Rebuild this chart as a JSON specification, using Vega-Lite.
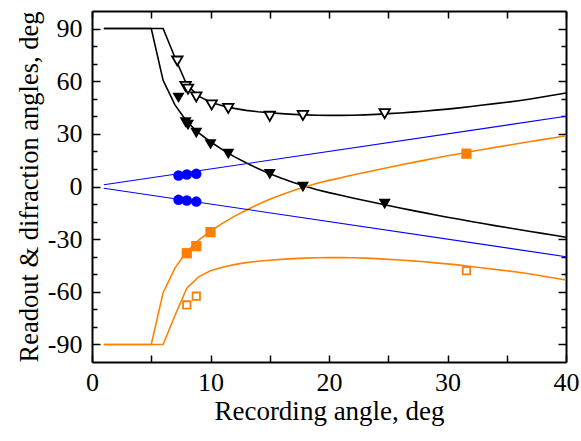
{
  "$schema": "https://vega.github.io/schema/vega-lite/v6.json",
  "width": 474,
  "height": 351,
  "autosize": {"type": "none"},
  "padding": {"left": 92, "top": 11, "right": 15, "bottom": 79},
  "background": "white",
  "config": {
    "view": {"stroke": null},
    "axis": {
      "domainColor": "black", "domainWidth": 2, "tickColor": "black", "tickWidth": 1.5, "grid": false,
      "labelFont": "Liberation Serif", "labelFontSize": 26, "labelColor": "black", "labelFlush": false, "labelOverlap": false,
      "titleFont": "Liberation Serif", "titleFontSize": 27, "titleFontWeight": "normal", "titleColor": "black"
    }
  },
  "datasets": {
    "lines": [
      {"s":"UB","x":1,"y":90},{"s":"UB","x":2,"y":90},{"s":"UB","x":3,"y":90},{"s":"UB","x":4,"y":90},{"s":"UB","x":5,"y":90},{"s":"UB","x":6,"y":90},{"s":"UB","x":7,"y":73.5},{"s":"UB","x":8,"y":58},{"s":"UB","x":9,"y":51.5},{"s":"UB","x":10,"y":48},
      {"s":"UB","x":11,"y":46},{"s":"UB","x":12,"y":44.5},{"s":"UB","x":13,"y":43.4},{"s":"UB","x":14,"y":42.6},{"s":"UB","x":15,"y":42},{"s":"UB","x":16,"y":41.5},{"s":"UB","x":17,"y":41.1},{"s":"UB","x":18,"y":40.8},{"s":"UB","x":19,"y":40.6},{"s":"UB","x":20,"y":40.5},
      {"s":"UB","x":21,"y":40.5},{"s":"UB","x":22,"y":40.6},{"s":"UB","x":23,"y":40.8},{"s":"UB","x":24,"y":41.1},{"s":"UB","x":25,"y":41.5},{"s":"UB","x":26,"y":41.9},{"s":"UB","x":27,"y":42.4},{"s":"UB","x":28,"y":42.9},{"s":"UB","x":29,"y":43.5},{"s":"UB","x":30,"y":44.1},
      {"s":"UB","x":31,"y":44.8},{"s":"UB","x":32,"y":45.6},{"s":"UB","x":33,"y":46.4},{"s":"UB","x":34,"y":47.2},{"s":"UB","x":35,"y":48},{"s":"UB","x":36,"y":48.9},{"s":"UB","x":37,"y":49.9},{"s":"UB","x":38,"y":51},{"s":"UB","x":39,"y":52.1},{"s":"UB","x":40,"y":53.3},

      {"s":"LB","x":1,"y":90},{"s":"LB","x":2,"y":90},{"s":"LB","x":3,"y":90},{"s":"LB","x":4,"y":90},{"s":"LB","x":5,"y":90},{"s":"LB","x":6,"y":60.5},{"s":"LB","x":7,"y":46.5},{"s":"LB","x":8,"y":37},{"s":"LB","x":9,"y":30.5},{"s":"LB","x":10,"y":25.5},
      {"s":"LB","x":11,"y":21},{"s":"LB","x":12,"y":17},{"s":"LB","x":13,"y":13.5},{"s":"LB","x":14,"y":10.3},{"s":"LB","x":15,"y":7.3},{"s":"LB","x":16,"y":4.7},{"s":"LB","x":17,"y":2.3},{"s":"LB","x":18,"y":0.1},{"s":"LB","x":19,"y":-1.8},{"s":"LB","x":20,"y":-3.5},
      {"s":"LB","x":21,"y":-5},{"s":"LB","x":22,"y":-6.5},{"s":"LB","x":23,"y":-8},{"s":"LB","x":24,"y":-9.4},{"s":"LB","x":25,"y":-10.8},{"s":"LB","x":26,"y":-12.2},{"s":"LB","x":27,"y":-13.6},{"s":"LB","x":28,"y":-14.9},{"s":"LB","x":29,"y":-16.2},{"s":"LB","x":30,"y":-17.5},
      {"s":"LB","x":31,"y":-18.7},{"s":"LB","x":32,"y":-19.9},{"s":"LB","x":33,"y":-21.1},{"s":"LB","x":34,"y":-22.3},{"s":"LB","x":35,"y":-23.4},{"s":"LB","x":36,"y":-24.5},{"s":"LB","x":37,"y":-25.6},{"s":"LB","x":38,"y":-26.7},{"s":"LB","x":39,"y":-27.8},{"s":"LB","x":40,"y":-28.9},

      {"s":"UO","x":1,"y":-90},{"s":"UO","x":2,"y":-90},{"s":"UO","x":3,"y":-90},{"s":"UO","x":4,"y":-90},{"s":"UO","x":5,"y":-90},{"s":"UO","x":6,"y":-60.5},{"s":"UO","x":7,"y":-46.5},{"s":"UO","x":8,"y":-37},{"s":"UO","x":9,"y":-30.5},{"s":"UO","x":10,"y":-25.5},
      {"s":"UO","x":11,"y":-21},{"s":"UO","x":12,"y":-17},{"s":"UO","x":13,"y":-13.5},{"s":"UO","x":14,"y":-10.3},{"s":"UO","x":15,"y":-7.3},{"s":"UO","x":16,"y":-4.7},{"s":"UO","x":17,"y":-2.3},{"s":"UO","x":18,"y":-0.1},{"s":"UO","x":19,"y":1.8},{"s":"UO","x":20,"y":3.5},
      {"s":"UO","x":21,"y":5},{"s":"UO","x":22,"y":6.5},{"s":"UO","x":23,"y":8},{"s":"UO","x":24,"y":9.4},{"s":"UO","x":25,"y":10.8},{"s":"UO","x":26,"y":12.2},{"s":"UO","x":27,"y":13.6},{"s":"UO","x":28,"y":14.9},{"s":"UO","x":29,"y":16.2},{"s":"UO","x":30,"y":17.5},
      {"s":"UO","x":31,"y":18.7},{"s":"UO","x":32,"y":19.9},{"s":"UO","x":33,"y":21.1},{"s":"UO","x":34,"y":22.3},{"s":"UO","x":35,"y":23.4},{"s":"UO","x":36,"y":24.5},{"s":"UO","x":37,"y":25.6},{"s":"UO","x":38,"y":26.7},{"s":"UO","x":39,"y":27.8},{"s":"UO","x":40,"y":28.9},

      {"s":"LO","x":1,"y":-90},{"s":"LO","x":2,"y":-90},{"s":"LO","x":3,"y":-90},{"s":"LO","x":4,"y":-90},{"s":"LO","x":5,"y":-90},{"s":"LO","x":6,"y":-90},{"s":"LO","x":7,"y":-73.5},{"s":"LO","x":8,"y":-58},{"s":"LO","x":9,"y":-51.5},{"s":"LO","x":10,"y":-48},
      {"s":"LO","x":11,"y":-46},{"s":"LO","x":12,"y":-44.5},{"s":"LO","x":13,"y":-43.4},{"s":"LO","x":14,"y":-42.6},{"s":"LO","x":15,"y":-42},{"s":"LO","x":16,"y":-41.5},{"s":"LO","x":17,"y":-41.1},{"s":"LO","x":18,"y":-40.8},{"s":"LO","x":19,"y":-40.6},{"s":"LO","x":20,"y":-40.5},
      {"s":"LO","x":21,"y":-40.5},{"s":"LO","x":22,"y":-40.6},{"s":"LO","x":23,"y":-40.8},{"s":"LO","x":24,"y":-41.1},{"s":"LO","x":25,"y":-41.5},{"s":"LO","x":26,"y":-41.9},{"s":"LO","x":27,"y":-42.4},{"s":"LO","x":28,"y":-42.9},{"s":"LO","x":29,"y":-43.5},{"s":"LO","x":30,"y":-44.1},
      {"s":"LO","x":31,"y":-44.8},{"s":"LO","x":32,"y":-45.6},{"s":"LO","x":33,"y":-46.4},{"s":"LO","x":34,"y":-47.2},{"s":"LO","x":35,"y":-48},{"s":"LO","x":36,"y":-48.9},{"s":"LO","x":37,"y":-49.9},{"s":"LO","x":38,"y":-51},{"s":"LO","x":39,"y":-52.1},{"s":"LO","x":40,"y":-53.3}
    ],
    "blue": [
      {"s":"BU","x":1,"y":1},{"s":"BU","x":40,"y":40},
      {"s":"BL","x":1,"y":-1},{"s":"BL","x":40,"y":-40}
    ],
    "points": [
      {"m":"ot","x":7.2,"y":71.5},{"m":"ot","x":7.9,"y":57},{"m":"ot","x":8.1,"y":55.5},{"m":"ot","x":8.8,"y":51},{"m":"ot","x":10.1,"y":46.5},{"m":"ot","x":11.5,"y":44.5},{"m":"ot","x":15,"y":40},{"m":"ot","x":17.8,"y":40.5},{"m":"ot","x":24.7,"y":41.5},
      {"m":"ft","x":7.3,"y":50.5},{"m":"ft","x":7.9,"y":36.5},{"m":"ft","x":8.1,"y":35},{"m":"ft","x":8.8,"y":30.5},{"m":"ft","x":10,"y":24},{"m":"ft","x":11.5,"y":18.5},{"m":"ft","x":15,"y":7},{"m":"ft","x":17.8,"y":-0.3},{"m":"ft","x":24.7,"y":-10},
      {"m":"c","x":7.3,"y":6.3},{"m":"c","x":8,"y":6.8},{"m":"c","x":8.8,"y":7.2},{"m":"c","x":7.3,"y":-7.6},{"m":"c","x":8,"y":-8},{"m":"c","x":8.8,"y":-8.6},
      {"m":"fs","x":8,"y":-38},{"m":"fs","x":8.8,"y":-34},{"m":"fs","x":10,"y":-26},{"m":"fs","x":31.6,"y":18.7},
      {"m":"os","x":8,"y":-67.5},{"m":"os","x":8.8,"y":-62.5},{"m":"os","x":31.6,"y":-48}
    ]
  },
  "layer": [
    {
      "data": {"name": "lines"},
      "mark": {"type": "line", "strokeWidth": 1.6},
      "encoding": {
        "x": {"field": "x", "type": "quantitative", "scale": {"domain": [0, 40], "nice": false, "zero": false},
          "axis": {"orient": "bottom", "values": [0,5,10,15,20,25,30,35,40], "labelExpr": "datum.value % 10 === 0 ? '' + datum.value : ''",
            "tickSize": -7, "labelPadding": 14, "title": "Recording angle, deg", "titleBaseline": "alphabetic", "titleY": 57}},
        "y": {"field": "y", "type": "quantitative", "scale": {"domain": [-100, 100], "nice": false, "zero": false},
          "axis": {"orient": "left", "values": [-90,-60,-30,0,30,60,90],
            "labelExpr": "'' + datum.value",
            "tickSize": -8,
            "labelPadding": 18, "title": "Readout & difraction angles, deg", "titleFontSize": 26.5, "titleX": -55, "titleY": 175.5, "titleAngle": -90, "titleBaseline": "alphabetic", "titleAlign": "center"}},
        "detail": {"field": "s"},
        "color": {"field": "s", "type": "nominal", "scale": {"domain": ["UB","LB","UO","LO"], "range": ["#000000","#000000","#ff8000","#ff8000"]}, "legend": null}
      }
    },
    {
      "data": {"name": "blue"},
      "mark": {"type": "line", "strokeWidth": 1.1, "color": "#0000ff"},
      "encoding": {
        "x": {"field": "x", "type": "quantitative", "scale": {"domain": [0, 40], "nice": false, "zero": false},
          "axis": {"orient": "top", "values": [0,5,10,15,20,25,30,35,40], "labels": false, "tickSize": -7, "title": null}},
        "y": {"field": "y", "type": "quantitative", "scale": {"domain": [-100, 100], "nice": false, "zero": false},
          "axis": {"orient": "right", "values": [-90,-60,-30,0,30,60,90], "labels": false, "tickSize": -8, "title": null}},
        "detail": {"field": "s"}
      }
    },
    {
      "data": {"name": "points"},
      "transform": [{"filter": "datum.m === 'c'"}],
      "mark": {"type": "circle", "size": 110, "color": "#0000ff", "opacity": 1},
      "encoding": {
        "x": {"field": "x", "type": "quantitative", "axis": null},
        "y": {"field": "y", "type": "quantitative",
          "axis": {"orient": "left", "values": [-80,-70,-50,-40,-20,-10,10,20,40,50,70,80], "labels": false, "domain": false, "tickSize": -5, "title": null}}
      }
    },
    {
      "data": {"name": "points"},
      "transform": [{"filter": "datum.m === 'ot'"}],
      "mark": {"type": "point", "shape": "triangle-down", "size": 110, "filled": true, "fill": "white", "stroke": "black", "strokeWidth": 1.8, "opacity": 1},
      "encoding": {
        "x": {"field": "x", "type": "quantitative", "axis": null},
        "y": {"field": "y", "type": "quantitative",
          "axis": {"orient": "right", "values": [-80,-70,-50,-40,-20,-10,10,20,40,50,70,80], "labels": false, "domain": false, "tickSize": -5, "title": null}}
      }
    },
    {
      "data": {"name": "points"},
      "transform": [{"filter": "datum.m === 'ft'"}],
      "mark": {"type": "point", "shape": "triangle-down", "size": 145, "filled": true, "color": "black", "opacity": 1},
      "encoding": {
        "x": {"field": "x", "type": "quantitative", "axis": null},
        "y": {"field": "y", "type": "quantitative", "axis": null}
      }
    },
    {
      "data": {"name": "points"},
      "transform": [{"filter": "datum.m === 'fs'"}],
      "mark": {"type": "square", "size": 105, "color": "#ff8000", "opacity": 1},
      "encoding": {
        "x": {"field": "x", "type": "quantitative", "axis": null},
        "y": {"field": "y", "type": "quantitative", "axis": null}
      }
    },
    {
      "data": {"name": "points"},
      "transform": [{"filter": "datum.m === 'os'"}],
      "mark": {"type": "point", "shape": "square", "size": 55, "filled": true, "fill": "white", "stroke": "#ff8000", "strokeWidth": 1.8, "opacity": 1},
      "encoding": {
        "x": {"field": "x", "type": "quantitative", "axis": null},
        "y": {"field": "y", "type": "quantitative", "axis": null}
      }
    }
  ],
  "resolve": {"axis": {"x": "independent", "y": "independent"}}
}
